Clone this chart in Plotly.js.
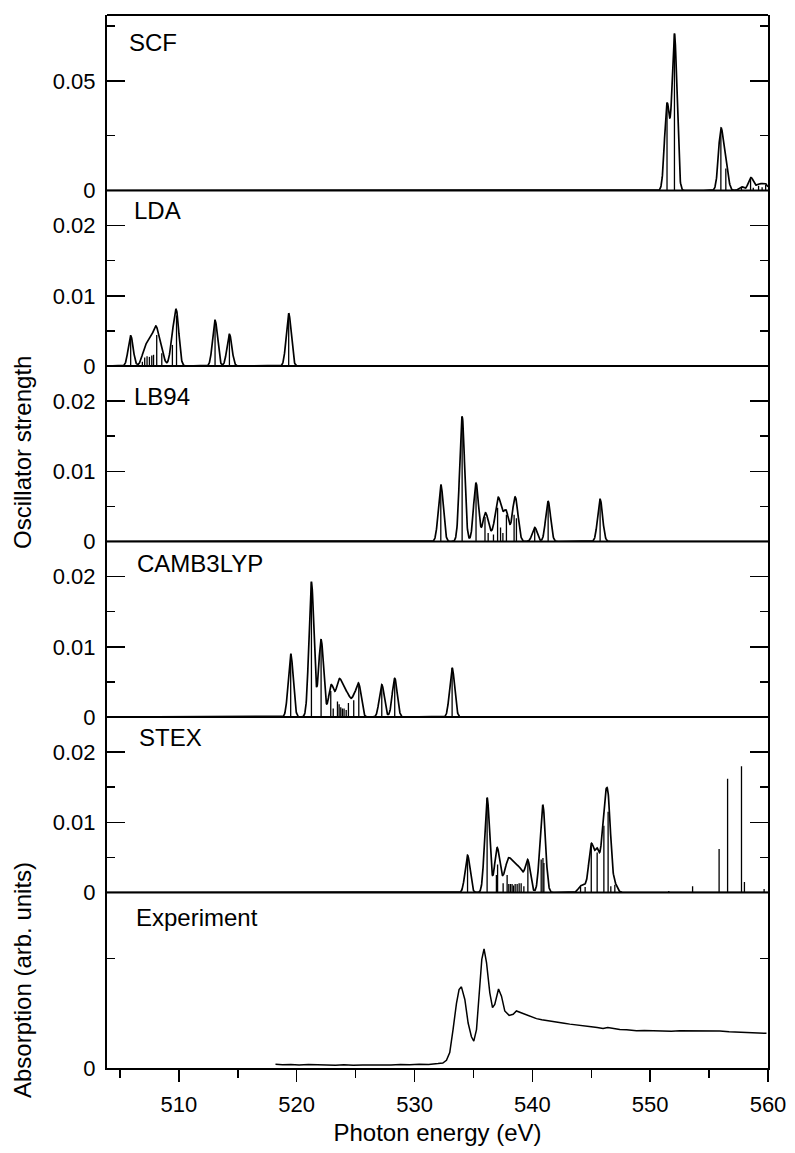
<!DOCTYPE html>
<html>
<head>
<meta charset="utf-8">
<script src="https://cdn.plot.ly/plotly-3.0.1.min.js"></script>
<style>html,body{margin:0;padding:0;background:#fff;}</style>
</head>
<body>
<div id="chart" style="width:795px;height:1153px;"></div>
<script>
// ---------------- DATA ----------------
const panelNames = ['SCF', 'LDA', 'LB94', 'CAMB3LYP', 'STEX', 'Experiment'];

// stick spectra (photon energy in eV, oscillator strength)
const scfEnergy   = [551.43, 552.06, 556.00, 556.42, 557.75, 558.52, 558.75, 559.20, 559.50, 559.80];
const scfStrength = [0.0392, 0.0712, 0.0270, 0.0100, 0.0017, 0.0052, 0.0012, 0.0022, 0.0015, 0.0025];

const ldaEnergy   = [505.91, 506.90, 507.10, 507.30, 507.50, 507.70, 507.85, 508.12, 508.55, 509.45, 509.80, 513.07, 514.29, 519.32];
const ldaStrength = [0.0043, 0.0006, 0.0012, 0.0014, 0.0013, 0.0015, 0.0016, 0.0044, 0.0018, 0.0030, 0.0072, 0.0065, 0.0045, 0.0075];

const lb94Energy   = [532.23, 534.04, 535.22, 535.98, 536.25, 536.70, 537.05, 537.30, 537.50, 537.80, 538.45, 538.65, 540.20, 541.34, 545.75];
const lb94Strength = [0.0081, 0.0178, 0.0083, 0.0035, 0.0012, 0.0010, 0.0048, 0.0020, 0.0012, 0.0038, 0.0038, 0.0033, 0.0020, 0.0057, 0.0060];

const camEnergy   = [519.49, 521.25, 522.07, 522.89, 523.10, 523.46, 523.60, 523.74, 523.88, 524.02, 524.20, 524.39, 524.84, 525.27, 527.22, 528.32, 533.19];
const camStrength = [0.0090, 0.0192, 0.0110, 0.0037, 0.0012, 0.0022, 0.0018, 0.0014, 0.0012, 0.0012, 0.0010, 0.0020, 0.0024, 0.0045, 0.0046, 0.0055, 0.0070];

const stexEnergy   = [534.50, 536.16, 536.95, 537.05, 537.52, 537.86, 538.00, 538.14, 538.28, 538.40, 538.54, 538.71, 538.88, 539.05, 539.28, 539.62,
                      540.75, 540.90, 540.98, 544.09, 544.48, 545.00, 545.50, 546.07, 546.43, 546.66, 547.00,
                      551.58, 553.60, 555.85, 556.57, 557.75, 558.00, 559.67];
const stexStrength = [0.0053, 0.0135, 0.0025, 0.0040, 0.0013, 0.0025, 0.0012, 0.0012, 0.0012, 0.0010, 0.0012, 0.0012, 0.0013, 0.0013, 0.0009, 0.0044,
                      0.0047, 0.0049, 0.0042, 0.0008, 0.0008, 0.0066, 0.0057, 0.0095, 0.0115, 0.0009, 0.0011,
                      0.0002, 0.0009, 0.0062, 0.0162, 0.0180, 0.0015, 0.0005];

// measured absorption spectrum
const expEnergy = [518.2, 518.8, 519.5, 520.2, 521.0, 521.8, 522.5, 523.3, 524.0, 524.8, 525.6, 526.4, 527.2, 528.0, 528.8, 529.6, 530.4, 531.2, 532.0, 532.4,
                   532.71, 532.99, 533.27, 533.56, 533.78, 533.98, 534.27, 534.55, 534.83, 535.03, 535.26, 535.48, 535.71, 535.90, 536.11, 536.39, 536.62, 536.81,
                   537.13, 537.38, 537.66, 538.03, 538.37, 538.65, 538.90, 539.10, 539.40, 539.64, 540.00, 540.35, 540.80, 541.20, 541.76, 542.30, 542.70,
                   543.18, 543.70, 544.10, 544.60, 545.00, 545.50, 546.00, 546.40, 546.70, 547.00, 547.42, 548.00, 548.84, 549.50, 550.25, 551.00, 551.80,
                   552.50, 553.08, 553.80, 554.50, 555.20, 555.91, 556.70, 557.60, 558.40, 559.20, 559.87];
const expAbsorption = [0.034, 0.030, 0.033, 0.028, 0.031, 0.027, 0.030, 0.026, 0.029, 0.025, 0.028, 0.026, 0.029, 0.027, 0.031, 0.029, 0.034, 0.033, 0.040, 0.045,
                       0.070, 0.140, 0.350, 0.590, 0.715, 0.740, 0.625, 0.410, 0.285, 0.245, 0.350, 0.655, 0.990, 1.085, 0.960, 0.685, 0.550, 0.580,
                       0.720, 0.655, 0.520, 0.480, 0.490, 0.520, 0.510, 0.505, 0.490, 0.480, 0.462, 0.450, 0.440, 0.432, 0.420, 0.415, 0.408,
                       0.400, 0.395, 0.388, 0.380, 0.376, 0.370, 0.360, 0.370, 0.362, 0.355, 0.350, 0.348, 0.340, 0.341, 0.337, 0.338, 0.335,
                       0.340, 0.340, 0.336, 0.338, 0.335, 0.337, 0.330, 0.325, 0.322, 0.318, 0.316];

// axis ticks
const energyTicks = [510, 520, 530, 540, 550, 560];
const energyMinorTicks = [505, 515, 525, 535, 545, 555];
const scfTicks = [0, 0.05];
const scfTickText = ['0', '0.05'];
const scfMinorTicks = [0.025, 0.075];
const oscTicks = [0, 0.01, 0.02];
const oscTickText = ['0', '0.01', '0.02'];
const oscMinorTicks = [0.005, 0.015];
const expTicks = [0];
const expTickText = ['0'];
const expMinorTicks = [1];

// ---------------- BUILD ----------------
const SIGMA = 0.21;          // Gaussian broadening (eV)
const STEX_BROADEN_MAX = 548; // STEX sticks above this are shown without broadening
const FONT = 'Liberation Sans, Arial, Helvetica, sans-serif';
const FS_TICK = 22;
const FS_LABEL = 24;

function stickTrace(E, F, yax) {
  const x = [], y = [];
  for (let i = 0; i < E.length; i++) { x.push(E[i], E[i], null); y.push(0, F[i], null); }
  return {x, y, xaxis: 'x', yaxis: yax, type: 'scatter', mode: 'lines',
          line: {color: '#000', width: 1.3}, hoverinfo: 'skip', showlegend: false};
}
function broadTrace(E, F, yax, maxE) {
  const x = [], y = [];
  const n = Math.round((560 - 503.9) / 0.02);
  for (let k = 0; k <= n; k++) {
    const e = 503.9 + k * 0.02;
    let s = 0;
    for (let i = 0; i < E.length; i++) {
      if (maxE !== undefined && E[i] > maxE) continue;
      const d = e - E[i];
      s += F[i] * Math.exp(-d * d / (2 * SIGMA * SIGMA));
    }
    x.push(e); y.push(s);
  }
  return {x, y, xaxis: 'x', yaxis: yax, type: 'scatter', mode: 'lines',
          line: {color: '#000', width: 1.7}, hoverinfo: 'skip', showlegend: false};
}

const traces = [
  broadTrace(scfEnergy, scfStrength, 'y'),  stickTrace(scfEnergy, scfStrength, 'y'),
  broadTrace(ldaEnergy, ldaStrength, 'y2'), stickTrace(ldaEnergy, ldaStrength, 'y2'),
  broadTrace(lb94Energy, lb94Strength, 'y3'), stickTrace(lb94Energy, lb94Strength, 'y3'),
  broadTrace(camEnergy, camStrength, 'y4'), stickTrace(camEnergy, camStrength, 'y4'),
  broadTrace(stexEnergy, stexStrength, 'y5', STEX_BROADEN_MAX), stickTrace(stexEnergy, stexStrength, 'y5'),
  {x: expEnergy, y: expAbsorption, xaxis: 'x', yaxis: 'y6', type: 'scatter', mode: 'lines',
   line: {color: '#000', width: 1.5}, hoverinfo: 'skip', showlegend: false}
];

function yax(i, range, major, majorText, minor) {
  return {
    domain: [1 - (i + 1) / 6, 1 - i / 6], range: range, anchor: 'x',
    tickmode: 'array', tickvals: major, ticktext: majorText,
    ticks: 'inside', ticklen: 18, tickwidth: 1.5, tickcolor: '#000',
    minor: {tickmode: 'array', tickvals: minor, ticks: 'inside', ticklen: 8, tickwidth: 1.5, tickcolor: '#000', showgrid: false},
    showline: true, linecolor: '#000', linewidth: 2, mirror: 'ticks',
    showgrid: false, zeroline: false, fixedrange: true,
    tickfont: {family: FONT, size: FS_TICK, color: '#000'}, ticklabelstandoff: 5
  };
}

const W = 795, H = 1153, ML = 107, MR = 27, MT = 15, MB = 85;
const PW = W - ML - MR, PH = H - MT - MB;
const px = v => (v - ML) / PW;
const py = v => (H - MB - v) / PH;

const labelPos = [[127, 42], [132, 211], [132, 396], [135, 563], [137, 737], [134, 917]];
const annotations = panelNames.map((t, i) => ({
  text: t, xref: 'paper', yref: 'paper', x: px(labelPos[i][0]), y: py(labelPos[i][1]),
  xanchor: 'left', yanchor: 'middle', showarrow: false, font: {family: FONT, size: FS_LABEL, color: '#000'}
}));
annotations.push({text: 'Oscillator strength', xref: 'paper', yref: 'paper', x: px(22), y: py(453),
  xanchor: 'center', yanchor: 'middle', textangle: -90, showarrow: false, font: {family: FONT, size: FS_LABEL, color: '#000'}});
annotations.push({text: 'Absorption (arb. units)', xref: 'paper', yref: 'paper', x: px(22), y: py(980),
  xanchor: 'center', yanchor: 'middle', textangle: -90, showarrow: false, font: {family: FONT, size: FS_LABEL, color: '#000'}});

const shapes = [];
for (let k = 1; k <= 6; k++) {
  shapes.push({type: 'line', xref: 'paper', yref: 'paper', x0: 0, x1: 1, y0: k / 6, y1: k / 6,
               line: {color: '#000', width: 2}});
}

const layout = {
  width: W, height: H, margin: {l: ML, r: MR, t: MT, b: MB},
  paper_bgcolor: '#fff', plot_bgcolor: '#fff', showlegend: false,
  font: {family: FONT, size: FS_TICK, color: '#000'},
  xaxis: {
    range: [503.9, 560], anchor: 'y6', tickmode: 'array', tickvals: energyTicks,
    ticks: 'outside', ticklen: 12, tickwidth: 1.5, tickcolor: '#000',
    minor: {tickmode: 'array', tickvals: energyMinorTicks, ticks: 'outside', ticklen: 8, tickwidth: 1.5, tickcolor: '#000', showgrid: false},
    showline: true, linecolor: '#000', linewidth: 2, mirror: false,
    showgrid: false, zeroline: false, fixedrange: true,
    tickfont: {family: FONT, size: FS_TICK, color: '#000'}, ticklabelstandoff: 4,
    title: {text: 'Photon energy (eV)', font: {family: FONT, size: FS_LABEL, color: '#000'}, standoff: 8}
  },
  yaxis:  yax(0, [0, 0.08], scfTicks, scfTickText, scfMinorTicks),
  yaxis2: yax(1, [0, 0.025], oscTicks, oscTickText, oscMinorTicks),
  yaxis3: yax(2, [0, 0.025], oscTicks, oscTickText, oscMinorTicks),
  yaxis4: yax(3, [0, 0.025], oscTicks, oscTickText, oscMinorTicks),
  yaxis5: yax(4, [0, 0.025], oscTicks, oscTickText, oscMinorTicks),
  yaxis6: yax(5, [0, 1.6], expTicks, expTickText, expMinorTicks),
  annotations: annotations,
  shapes: shapes
};

Plotly.newPlot('chart', traces, layout, {staticPlot: true, displayModeBar: false});
</script>
</body>
</html>
